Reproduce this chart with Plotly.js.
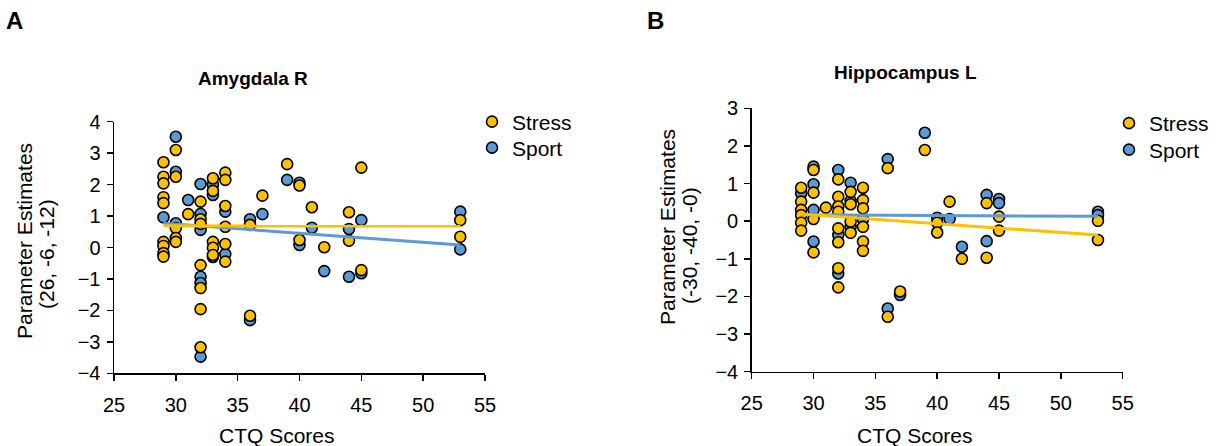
<!DOCTYPE html>
<html>
<head>
<meta charset="utf-8">
<script src="https://cdn.plot.ly/plotly-3.0.1.min.js"></script>
<style>html,body{margin:0;padding:0;background:#fff}#chart{width:1219px;height:446px}</style>
</head>
<body>
<div id="chart"></div>
<script>
// ---------- Panel A: Amygdala R ----------
const stressA_x = [29,29,29,29,29,29,29,29,29, 30,30,30,30,30, 31, 32,32,32,32,32,32,32, 33,33,33,33,33, 34,34,34,34,34,34, 36,36, 37, 39, 40,40, 41, 42, 44,44, 45,45, 53,53];
const stressA_y = [2.71,2.25,2.04,1.60,1.41,0.18,0.05,-0.18,-0.29, 3.10,2.25,0.62,0.30,0.18, 1.06, 1.46,0.90,0.75,-0.56,-1.29,-1.96,-3.17, 2.20,1.80,0.18,-0.01,-0.24, 2.38,2.15,1.32,0.66,0.11,-0.45, 0.72,-2.17, 1.65, 2.65, 1.97,0.24, 1.28, 0.01, 1.12,0.22, 2.54,-0.72, 0.87,0.34];
const sportA_x = [29, 30,30,30, 31, 32,32,32,32,32,32, 33,33,33, 34,34, 36,36, 37, 39, 40,40, 41, 42, 44,44, 45,45, 53,53];
const sportA_y = [0.96, 3.52,2.41,0.77, 1.51, 2.02,1.07,0.56,-0.93,-1.13,-3.47, 1.99,1.67,-0.30, 1.14,-0.21, 0.90,-2.31, 1.06, 2.15, 2.06,0.08, 0.63, -0.75, 0.59,-0.93, 0.87,-0.82, 1.14,-0.06];
const fitA_x = [29, 53];
const fitA_stress = [0.69, 0.68];
const fitA_sport = [0.77, 0.08];

// ---------- Panel B: Hippocampus L ----------
const stressB_x = [29,29,29,29,29,29, 30,30,30,30, 31, 32,32,32,32,32,32,32,32, 33,33,33,33, 34,34,34,34,34,34, 36,36, 37, 39, 40,40, 41, 42, 44,44, 45,45, 53,53];
const stressB_y = [0.89,0.52,0.30,0.16,-0.04,-0.25, 1.36,0.76,0.06,-0.83, 0.36, 1.11,0.65,0.39,0.25,-0.19,-0.56,-1.25,-1.76, 0.78,0.45,-0.01,-0.31, 0.89,0.56,0.34,-0.15,-0.54,-0.79, 1.41,-2.54, -1.87, 1.89, -0.04,-0.30, 0.52, -1.00, 0.48,-0.97, 0.12,-0.25, 0.01,-0.50];
const sportB_x = [29, 30,30,30,30, 32,32,32, 33,33,33, 34, 36,36, 37, 39, 40, 41, 42, 44,44, 45,45, 53,53];
const sportB_y = [0.74, 1.45,0.98,0.30,-0.54, 1.36,-0.37,-1.39, 1.02,0.54,-0.15, 0.05, 1.65,-2.32, -1.96, 2.35, 0.09, 0.06, -0.68, 0.70,-0.53, 0.59,0.48, 0.25,0.16];
const fitB_x = [29, 53];
const fitB_stress = [0.19, -0.37];
const fitB_sport = [0.17, 0.13];

const seriesNames = ['Stress', 'Sport'];
const yTickVals = [-4,-3,-2,-1,0,1,2,3,4];
const xTickVals = [25,30,35,40,45,50,55];

const YELLOW = '#FFC000', BLUE = '#5B9BD5';
const FONT = 'Liberation Sans, Arial, sans-serif';
const W = 1219, H = 446;

function pts(x, y, name, color, xa, ya, leg) {
  return {type:'scatter', mode:'markers', x:x, y:y, name:name, xaxis:xa, yaxis:ya,
    legend:leg, cliponaxis:false,
    marker:{size:11, color:color, line:{color:'#000', width:1.6}}};
}
function fit(x, y, color, xa, ya) {
  return {type:'scatter', mode:'lines', x:x, y:y, xaxis:xa, yaxis:ya, showlegend:false,
    hoverinfo:'skip', line:{color:color, width:3}};
}

const data = [
  pts(sportA_x, sportA_y, seriesNames[1], BLUE, 'x', 'y', 'legend3'),
  pts(stressA_x, stressA_y, seriesNames[0], YELLOW, 'x', 'y', 'legend'),
  fit(fitA_x, fitA_sport, BLUE, 'x', 'y'),
  fit(fitA_x, fitA_stress, YELLOW, 'x', 'y'),
  pts(sportB_x, sportB_y, seriesNames[1], BLUE, 'x2', 'y2', 'legend4'),
  pts(stressB_x, stressB_y, seriesNames[0], YELLOW, 'x2', 'y2', 'legend2'),
  fit(fitB_x, fitB_sport, BLUE, 'x2', 'y2'),
  fit(fitB_x, fitB_stress, YELLOW, 'x2', 'y2')
];

function xax(domain, anchor) {
  return {domain:domain, anchor:anchor, range:[25,55], tickvals:xTickVals, showgrid:false, zeroline:false,
    showline:true, linecolor:'#000', linewidth:1.5, ticks:'outside', ticklen:6, tickwidth:1.5, tickcolor:'#000',
    ticklabelstandoff:7, tickfont:{family:FONT, size:20, color:'#000'}};
}
function yax(domain, anchor, range) {
  return {domain:domain, anchor:anchor, range:range, tickvals:yTickVals.filter(v=>v>=range[0]&&v<=range[1]),
    showgrid:false, zeroline:false, showline:true, linecolor:'#000', linewidth:1.5, ticks:'outside', ticklen:6,
    tickwidth:1.5, tickcolor:'#000', ticklabelstandoff:2, tickfont:{family:FONT, size:20, color:'#000'}};
}
function leg(px, py) {
  return {x:px/W, y:1-py/H, xanchor:'left', yanchor:'middle', bgcolor:'rgba(0,0,0,0)',
    font:{family:FONT, size:21, color:'#000'}, borderwidth:0};
}

const ann = (text, px, py, size, bold, angle) => ({text: bold ? '<b>'+text+'</b>' : text, xref:'paper', yref:'paper',
  x:px/W, y:1-py/H, xanchor:'center', yanchor:'middle', showarrow:false, textangle:angle||0,
  font:{family:FONT, size:size, color:'#000'}});

const layout = {
  width:W, height:H, margin:{l:0, r:0, t:0, b:0}, paper_bgcolor:'#fff', plot_bgcolor:'rgba(0,0,0,0)',
  font:{family:FONT, color:'#000'},
  xaxis: xax([114/W, 485/W], 'y'),
  yaxis: yax([1-373.3/H, 1-121.7/H], 'x', [-4,4]),
  xaxis2: xax([751.7/W, 1122.7/W], 'y2'),
  yaxis2: yax([1-371.7/H, 1-108.3/H], 'x2', [-4,3]),
  legend: leg(472, 122),
  legend3: leg(472, 148),
  legend2: leg(1109, 123.5),
  legend4: leg(1109, 150),
  annotations: [
    ann('A', 14, 20, 24, true),
    ann('B', 655, 20, 24, true),
    ann('Amygdala R', 253, 79, 19, true),
    ann('Hippocampus L', 905, 72, 19, true),
    ann('Parameter Estimates', 24, 241, 21, false, -90),
    ann('(26, -6, -12)', 46, 254, 21, false, -90),
    ann('Parameter Estimates', 667, 227, 21, false, -90),
    ann('(-30, -40, -0)', 689, 246, 21, false, -90),
    ann('CTQ Scores', 277, 435, 21, false),
    ann('CTQ Scores', 915, 435, 21, false)
  ],
  showlegend:true
};

Plotly.newPlot('chart', data, layout, {displayModeBar:false, staticPlot:true});
</script>
</body>
</html>
